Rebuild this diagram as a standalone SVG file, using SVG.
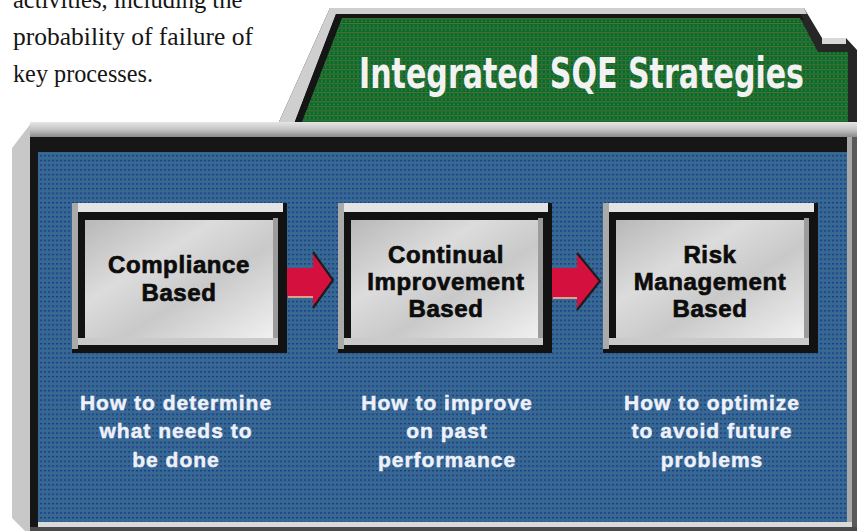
<svg xmlns="http://www.w3.org/2000/svg" width="858" height="531" viewBox="0 0 858 531">
<defs>
<pattern id="bluetex" width="4" height="4.7" patternUnits="userSpaceOnUse">
<rect width="4" height="4.7" fill="#33679a"/>
<rect y="0" width="2" height="1.3" fill="#25367e"/>
<rect y="2.4" width="4" height="1.2" fill="#3a6c84"/>
</pattern>
<pattern id="greentex" width="4" height="4.6" patternUnits="userSpaceOnUse">
<rect width="4" height="4.6" fill="#0b6630"/>
<rect y="0" width="4" height="1.1" fill="#52702c"/>
<rect x="1" y="2.4" width="1.5" height="1.1" fill="#2fa038"/>
</pattern>
<linearGradient id="silver" x1="0" y1="0" x2="1" y2="1">
<stop offset="0" stop-color="#b8b8b8"/>
<stop offset="0.35" stop-color="#dcdcdc"/>
<stop offset="0.6" stop-color="#c9c9c9"/>
<stop offset="1" stop-color="#f0f0f0"/>
</linearGradient>
<linearGradient id="barV" x1="0" y1="0" x2="0" y2="1">
<stop offset="0" stop-color="#e6e6e6"/>
<stop offset="0.5" stop-color="#c4c4c4"/>
<stop offset="1" stop-color="#8a8a8a"/>
</linearGradient>
<linearGradient id="sideH" x1="0" y1="0" x2="1" y2="0">
<stop offset="0" stop-color="#c8c8c8"/>
<stop offset="0.6" stop-color="#a4a4a4"/>
<stop offset="1" stop-color="#6e6e6e"/>
</linearGradient>
</defs>
<style>
.para{font-family:"Liberation Serif","DejaVu Serif",serif;font-size:24.5px;fill:#151515}
.title{font-family:"DejaVu Sans Condensed","DejaVu Sans",sans-serif;font-weight:bold;font-size:43px;fill:#f2f2f2}
.blabel{font-family:"Liberation Sans",Arial,sans-serif;font-weight:bold;font-size:24px;fill:#0c0c0c;stroke:#0c0c0c;stroke-width:0.7;text-anchor:middle;letter-spacing:0.6px}
.desc{font-family:"Liberation Sans",Arial,sans-serif;font-weight:bold;font-size:21px;fill:#eef0fa;stroke:#eef0fa;stroke-width:0.5;text-anchor:middle;letter-spacing:1px}
.frame{fill:#121212}
.topbev{fill:#e4e4e4}
.leftbev{fill:#aaaaaa}
.inner{fill:url(#silver)}
.rightbev{fill:#9c9c9c}
.botbev{fill:#cacaca}
.arrow{fill:#d3103e}
.ahead{fill:none;stroke:#1c1c1c;stroke-width:2.2}
.ahl{stroke:#d8a48c;stroke-width:2}
</style>
<rect width="858" height="531" fill="#ffffff"/>

<g id="paragraph">
<text class="para" x="13" y="8">activities, including the</text>
<text class="para" x="13" y="45" textLength="240" lengthAdjust="spacingAndGlyphs">probability of failure of</text>
<text class="para" x="13" y="82" textLength="140" lengthAdjust="spacingAndGlyphs">key processes.</text>
</g>

<g id="panel">
<polygon points="12,148 32,122 857,122 857,531 25,531 12,518" fill="url(#sideH)"/>
<rect x="30" y="122" width="827" height="15" fill="url(#barV)"/>
<rect x="30" y="137" width="822" height="391" fill="#161616"/>
<rect x="847" y="137" width="10" height="391" fill="#a8a8a8"/>
<rect x="852" y="137" width="5" height="394" fill="#5a5a5a"/>
<rect x="38" y="152" width="809" height="370" fill="url(#bluetex)"/>
<rect x="38" y="522" width="814" height="5" fill="#dadada"/>
<rect x="30" y="527" width="827" height="4" fill="#4a4a4a"/>
</g>

<g id="title-tab">
<polygon points="330,8 804,8 822,38 846,38 857,50 857,124 278,124" fill="#262626"/>
<polygon points="330,8 804,8 807,14 336,14 294,124 278,124" fill="#cfcfcf"/>
<polygon points="336,14 800,14 804,20 342,20 302,122 294,124" fill="#151515"/>
<polygon points="342,18 800,18 818,52 848,52 848,122 302,122" fill="url(#greentex)"/>
<rect x="822" y="38" width="24" height="6" fill="#d8d8d8"/>
<rect x="278" y="122" width="579" height="15" fill="url(#barV)"/>
<text class="title" x="359" y="88" textLength="445" lengthAdjust="spacingAndGlyphs">Integrated SQE Strategies</text>
</g>

<g id="node-compliance">
<rect class="frame" x="72" y="203" width="215" height="150"/>
<rect class="topbev" x="72" y="203" width="211" height="9"/>
<rect class="leftbev" x="72" y="203" width="6" height="146"/>
<rect class="inner" x="85" y="220" width="188" height="118"/>
<rect class="rightbev" x="273" y="218" width="5" height="122"/>
<rect class="botbev" x="78" y="338" width="200" height="7"/>
<text class="blabel" x="179" y="273">Compliance</text>
<text class="blabel" x="179" y="301">Based</text>
</g>

<g id="node-continual">
<rect class="frame" x="338" y="203" width="214" height="150"/>
<rect class="topbev" x="338" y="203" width="210" height="9"/>
<rect class="leftbev" x="338" y="203" width="6" height="146"/>
<rect class="inner" x="351" y="220" width="187" height="118"/>
<rect class="rightbev" x="538" y="218" width="5" height="122"/>
<rect class="botbev" x="344" y="338" width="199" height="7"/>
<text class="blabel" x="446" y="263">Continual</text>
<text class="blabel" x="446" y="290">Improvement</text>
<text class="blabel" x="446" y="317">Based</text>
</g>

<g id="node-risk">
<rect class="frame" x="603" y="203" width="215" height="150"/>
<rect class="topbev" x="603" y="203" width="211" height="9"/>
<rect class="leftbev" x="603" y="203" width="6" height="146"/>
<rect class="inner" x="616" y="220" width="188" height="118"/>
<rect class="rightbev" x="804" y="218" width="5" height="122"/>
<rect class="botbev" x="609" y="338" width="200" height="7"/>
<text class="blabel" x="710" y="263">Risk</text>
<text class="blabel" x="710" y="290">Management</text>
<text class="blabel" x="710" y="317">Based</text>
</g>

<g id="connectors">
<path class="arrow" d="M287,268 H313 V252 L333,280 L313,308 V296 H287 Z"/>
<polyline class="ahead" points="313,252 333,280 313,308"/>
<line class="ahl" x1="288" y1="297" x2="313" y2="297"/>
<path class="arrow" d="M552,268 H577 V253 L600,281 L577,310 V297 H552 Z"/>
<polyline class="ahead" points="577,253 600,281 577,310"/>
<line class="ahl" x1="553" y1="298" x2="577" y2="298"/>
</g>

<g id="descriptions">
<text class="desc" x="176" y="410">How to determine</text>
<text class="desc" x="176" y="438">what needs to</text>
<text class="desc" x="176" y="467">be done</text>
<text class="desc" x="447" y="410">How to improve</text>
<text class="desc" x="447" y="438">on past</text>
<text class="desc" x="447" y="467">performance</text>
<text class="desc" x="712" y="410">How to optimize</text>
<text class="desc" x="712" y="438">to avoid future</text>
<text class="desc" x="712" y="467">problems</text>
</g>
</svg>
